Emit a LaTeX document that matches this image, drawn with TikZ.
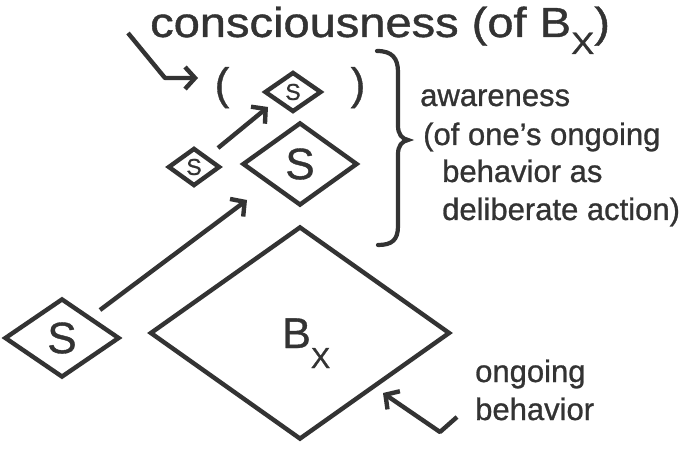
\documentclass[tikz,border=0pt]{standalone}
\usepackage{fontspec}
\setmainfont{Liberation Sans}[FakeBold=0.9]
\usetikzlibrary{shapes.geometric,arrows.meta}
\definecolor{ink}{HTML}{333333}
\begin{document}
\begin{tikzpicture}[x=1pt,y=-1pt,
  dia/.style={draw=ink,line width=4.4pt,shape=diamond,inner sep=0pt,line join=miter,text=ink},
  conn/.style={draw=ink,line width=4.4pt,line join=round,-{Straight Barb[length=10pt,width=22pt]}},
  txt/.style={text=ink,inner sep=0pt,anchor=base west},
  big/.style={font=\fontsize{44}{44}\selectfont},
  small/.style={font=\fontsize{23}{23}\selectfont},
  note/.style={txt,font=\fontsize{31}{31}\selectfont},
]
\useasboundingbox[fill=white] (0,0) rectangle (688,449);
% title
\node[txt] (title) at (150,37) {\scalebox{1.12}[1]{\fontsize{42}{42}\selectfont consciousness (of B\raisebox{-17pt}{\fontsize{31}{31}\selectfont X})}};
% diamonds
\node[dia,minimum width=300pt,minimum height=213pt] (bx) at (300,333) {};
\node[txt,font=\fontsize{43}{43}\selectfont] (bxt) at (282,348) {B\raisebox{-20pt}{\fontsize{29}{29}\selectfont X}};
\node[dia,big,minimum width=115pt,minimum height=79pt] (sl) at (62,338) {S};
\node[dia,big,minimum width=115pt,minimum height=83pt] (sm) at (300,164) {S};
\node[dia,small,minimum width=52pt,minimum height=38pt] (st1) at (194,167) {S};
\node[dia,small,minimum width=57pt,minimum height=40pt] (st2) at (293,92) {S};
% parentheses
\node[text=ink,big,inner sep=0pt,anchor=base] (lp) at (222,99) {(};
\node[text=ink,big,inner sep=0pt,anchor=base] (rp) at (358,99) {)};
% arrows
\coordinate (a1s) at (100,310); \coordinate (a1e) at (247,200);
\draw[conn] (a1s) -- (a1e);
\coordinate (a2s) at (218,148); \coordinate (a2e) at (268,107);
\draw[conn] (a2s) -- (a2e);
\coordinate (a3s) at (128,33); \coordinate (a3m) at (165,78); \coordinate (a3e) at (198,78);
\draw[conn] (a3s) -- (a3m) -- (a3e);
\coordinate (a4s) at (457,417); \coordinate (a4m) at (440,432); \coordinate (a4e) at (383,393);
\draw[conn] (a4s) -- (a4m) -- (a4e);
% brace
\draw[ink,line width=4.2pt,line cap=round] (377,51) .. controls (392,51) and (398,58) .. (398,72) -- (398,126) .. controls (398,134) and (402,139) .. (408,140) .. controls (402,141) and (398,146) .. (398,154) -- (398,226) .. controls (398,240) and (392,245) .. (378,245);
% notes
\node[note] (aw) at (420,106) {awareness};
\node[note] (l2) at (423,145) {(of one's ongoing};
\node[note] (l3) at (442,182) {behavior as};
\node[note] (l4) at (442,220) {deliberate action)};
\node[note] (ong) at (475,382) {ongoing};
\node[note] (beh) at (475,420) {behavior};
\end{tikzpicture}
\end{document}
